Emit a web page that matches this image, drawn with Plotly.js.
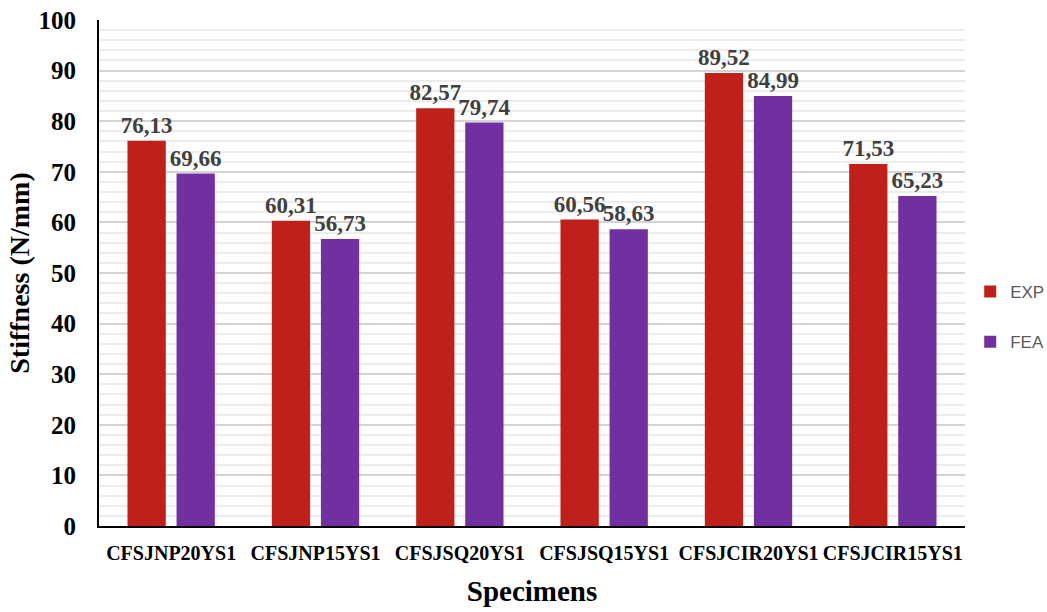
<!DOCTYPE html>
<html><head><meta charset="utf-8">
<script src="https://cdn.plot.ly/plotly-3.0.1.min.js"></script>
<style>body{margin:0;background:#fff}#chart{width:1047px;height:612px}</style>
</head><body><div id="chart"></div>
<script>
var specimens = ['CFSJNP20YS1','CFSJNP15YS1','CFSJSQ20YS1','CFSJSQ15YS1','CFSJCIR20YS1','CFSJCIR15YS1'];
var expValues = [76.13, 60.31, 82.57, 60.56, 89.52, 71.53];
var feaValues = [69.66, 56.73, 79.74, 58.63, 84.99, 65.23];
var yTicks = [0,10,20,30,40,50,60,70,80,90,100];

var labelFont = {family:'Liberation Serif, Times New Roman, serif', size:23, color:'#404040'};
var traces = [
  {type:'bar', name:'EXP', legendgroup:'a', x:specimens, y:expValues, marker:{color:'#c0201a'},
   texttemplate:'<b>%{y:.2f}</b>', textposition:'outside', constraintext:'none', cliponaxis:false, textfont:labelFont},
  {type:'bar', name:'FEA', legendgroup:'b', x:specimens, y:feaValues, marker:{color:'#7030a0'},
   texttemplate:'<b>%{y:.2f}</b>', textposition:'outside', constraintext:'none', cliponaxis:false, textfont:labelFont}
];
var layout = {
  width:1047, height:612, separators:',.',
  margin:{l:99, r:82, t:20, b:86, autoexpand:false},
  paper_bgcolor:'#fff', plot_bgcolor:'#fff',
  barmode:'group', bargap:0.32, bargroupgap:0.22,
  font:{family:'Liberation Serif, serif', color:'#000'},
  xaxis:{showline:true, linecolor:'#000', linewidth:2, ticks:'', ticklabelstandoff:8,
    tickfont:{family:'Liberation Serif, serif', size:20, color:'#000', weight:'bold'},
    title:{text:'<b>Specimens</b>', font:{family:'Liberation Serif, serif', size:29, color:'#000'}, standoff:18}},
  yaxis:{range:[0,100], tickvals:yTicks, showline:true, linecolor:'#000', linewidth:2,
    gridcolor:'#d4d4d4', gridwidth:2, zeroline:false, ticks:'', ticklabelstandoff:16,
    minor:{dtick:2, showgrid:true, gridcolor:'#ececec', gridwidth:2},
    tickfont:{family:'Liberation Serif, serif', size:25, color:'#000', weight:'bold'},
    title:{text:'<b>Stiffness (N/mm)</b>', font:{family:'Liberation Serif, serif', size:28, color:'#000'}, standoff:1}},
  legend:{x:1.006, y:0.413, xanchor:'left', yanchor:'middle', tracegroupgap:25,
    font:{family:'Liberation Sans, sans-serif', size:17, color:'#595959'}},
  showlegend:true
};
Plotly.newPlot('chart', traces, layout, {displayModeBar:false});
</script></body></html>
